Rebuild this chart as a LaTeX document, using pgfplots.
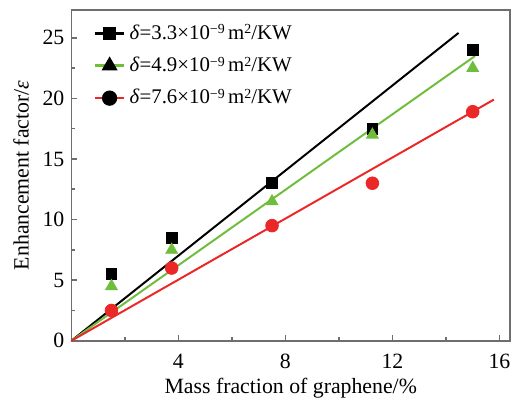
\documentclass[border=0pt]{standalone}
\usepackage{fontspec}
\setmainfont{Liberation Serif}
\usepackage{pgfplots}
\pgfplotsset{compat=1.18}
\definecolor{cgreen}{RGB}{110,190,60}
\definecolor{cred}{RGB}{235,40,40}
\definecolor{cframe}{RGB}{110,110,110}
\newcommand{\sps}[1]{{\fontsize{7}{8}\selectfont\raisebox{0.85ex}{#1}}}
\begin{document}
\begin{tikzpicture}
\begin{axis}[
  scale only axis,
  width=221.5pt, height=167pt,
  xmin=0, xmax=16.4, ymin=0, ymax=27.3,
  xtick={4,8,12,16}, minor xtick={2,6,10,14},
  ytick={0,5,10,15,20,25}, minor ytick={2.5,7.5,12.5,17.5,22.5},
  tick pos=left, tick align=inside,
  major tick length=3pt, minor tick length=2pt,
  axis line style={cframe, line width=0.8pt},
  every tick/.style={cframe, line width=0.8pt},
  /pgf/number format/assume math mode=true,
  ticklabel style={font=\fontsize{11}{13}\selectfont},
  xticklabel style={yshift=-3pt},
  xlabel={Mass fraction of graphene/\%},
  ylabel={Enhancement factor/\textit{ε}},
  label style={font=\fontsize{11}{13}\selectfont},
  xlabel style={yshift=2pt},
  ylabel style={yshift=0pt},
  legend style={draw=none, fill=none, at={(0.045,0.975)}, anchor=north west,
    font=\fontsize{10.5}{12}\selectfont, row sep=3.5pt, inner sep=1pt},
  legend cell align=left,
  legend image code/.code={\draw[mark repeat=2,mark phase=2] plot coordinates {(0pt,0pt) (7.5pt,0pt) (15pt,0pt)};},
  clip=false,
]
\addlegendimage{black, line width=1.3pt, mark=square*, mark size=2.7pt, mark options={solid}}
\addlegendentry{\textit{δ}=3.3×10\sps{−9}\,m\sps{2}/KW}
\addlegendimage{cgreen, line width=1.3pt, mark=triangle*, mark size=3.4pt, mark options={solid, fill=black, draw=black}}
\addlegendentry{\textit{δ}=4.9×10\sps{−9}\,m\sps{2}/KW}
\addlegendimage{cred, line width=1.3pt, mark=*, mark size=3.2pt, mark options={solid, fill=black, draw=black}}
\addlegendentry{\textit{δ}=7.6×10\sps{−9}\,m\sps{2}/KW}
% fit lines
\addplot[black, line width=1pt, no marks, forget plot] coordinates {(0,0) (14.47,25.4)};
\addplot[cgreen, line width=1pt, no marks, forget plot] coordinates {(0,0) (15.09,23.5)};
\addplot[cred, line width=1pt, no marks, forget plot] coordinates {(0,0) (15.79,19.9)};
% data
\addplot[only marks, mark=square*, mark size=2.7pt, black, forget plot] coordinates {(1.5,5.5) (3.75,8.5) (7.5,13.0) (11.25,17.5) (15,24.0)};
\addplot[only marks, mark=triangle*, mark size=3.4pt, cgreen, forget plot] coordinates {(1.5,4.5) (3.75,7.5) (7.5,11.5) (11.25,17.0) (15,22.5)};
\addplot[only marks, mark=*, mark size=3.2pt, cred, forget plot] coordinates {(1.5,2.5) (3.75,6.0) (7.5,9.5) (11.25,13.0) (15,18.9)};
\end{axis}
\path ([xshift=-36pt,yshift=-28.5pt]current axis.south west);
\path ([xshift=1pt,yshift=5pt]current axis.north east);
\end{tikzpicture}
\end{document}
